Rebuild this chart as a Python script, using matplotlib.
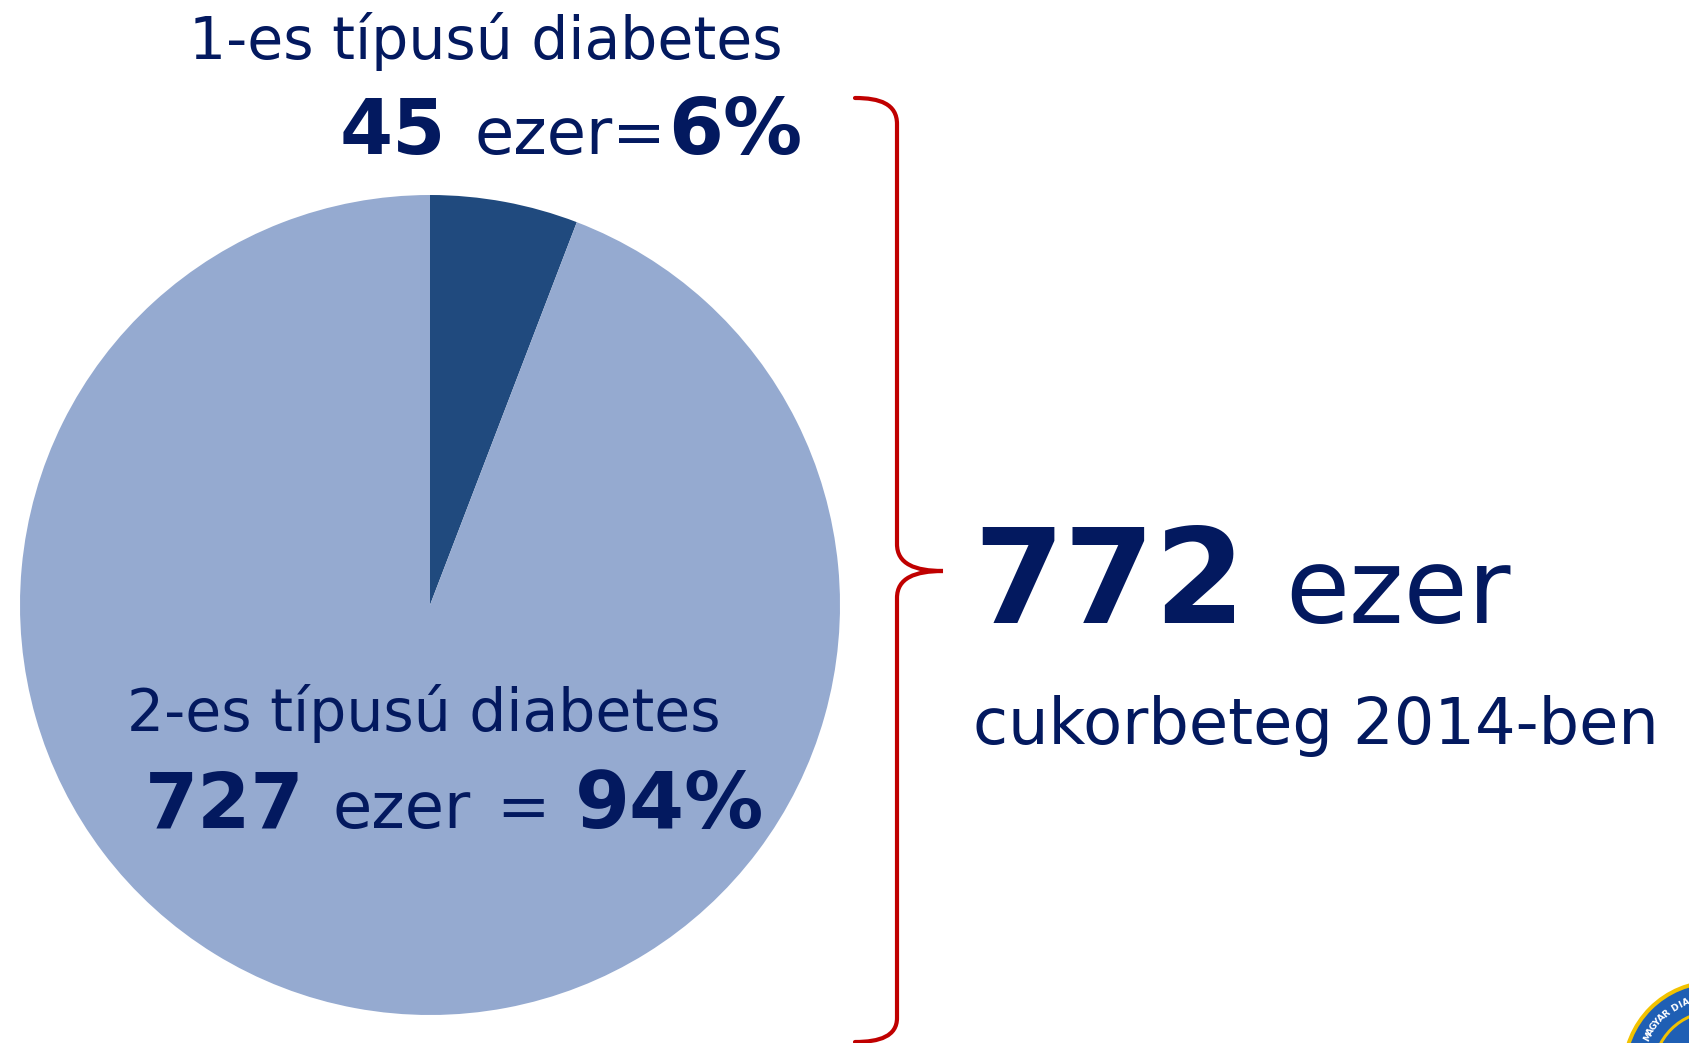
import matplotlib
matplotlib.use("Agg")
import matplotlib.pyplot as plt
from matplotlib.path import Path
from matplotlib.patches import PathPatch, Circle
import numpy as np

# data
types = ["1-es típusú diabetes", "2-es típusú diabetes"]
counts = [45, 727]          # ezer fő
shares = [6, 94]            # %
total = 772
year = 2014

NAVY = "#03195f"
SLICE_COLORS = ["#204a7e", "#95aad0"]
BRACE = "#c00000"

W, H = 1690, 1043
fig = plt.figure(figsize=(W / 100, H / 100), dpi=100)
ax = fig.add_axes([0, 0, 1, 1])

# pie: first slice starts at 12 o'clock and runs clockwise (y axis is flipped)
ax.pie(counts, colors=SLICE_COLORS, center=(430, 605), radius=410,
       startangle=-90, counterclock=True, wedgeprops=dict(linewidth=0))
ax.set_xlim(0, W)
ax.set_ylim(H, 0)
ax.set_aspect("auto")
ax.axis("off")

renderer = fig.canvas.get_renderer()


def draw_runs(x, y, runs):
    """Draw text pieces one after the other on a common baseline."""
    cur = x
    for s, weight, size, gap in runs:
        cur += gap
        t = ax.text(cur, y, s, fontsize=size, fontweight=weight, color=NAVY,
                    va="baseline", ha="left", family="DejaVu Sans")
        cur += t.get_window_extent(renderer=renderer).width
    return cur


# type 1 label
ax.text(189, 59, types[0], fontsize=42, color=NAVY, va="baseline", ha="left")
draw_runs(340, 154, [
    (str(counts[0]), "bold", 55, 0),
    ("ezer=", "normal", 46, 28),
    (f"{shares[0]}%", "bold", 57, 2),
])

# type 2 label
ax.text(127, 731, types[1], fontsize=42, color=NAVY, va="baseline", ha="left")
draw_runs(145, 828, [
    (str(counts[1]), "bold", 55, 0),
    ("ezer", "normal", 46, 28),
    ("=", "normal", 46, 25),
    (f"{shares[1]}%", "bold", 57, 26),
])

# total
draw_runs(973, 623, [
    (str(total), "bold", 94, 0),
    ("ezer", "normal", 75, 40),
])
ax.text(973, 744, f"cukorbeteg {year}-ben", fontsize=46, color=NAVY,
        va="baseline", ha="left")

# curly brace
verts = [
    (855, 98), (880, 98), (897, 104), (897, 124),
    (897, 544),
    (897, 564), (915, 571), (943, 571),
    (915, 571), (897, 578), (897, 598),
    (897, 1018),
    (897, 1036), (880, 1042), (855, 1042),
]
codes = [Path.MOVETO, Path.CURVE4, Path.CURVE4, Path.CURVE4,
         Path.LINETO,
         Path.CURVE4, Path.CURVE4, Path.CURVE4,
         Path.CURVE4, Path.CURVE4, Path.CURVE4,
         Path.LINETO,
         Path.CURVE4, Path.CURVE4, Path.CURVE4]
ax.add_patch(PathPatch(Path(verts, codes), facecolor="none",
                       edgecolor=BRACE, linewidth=3.0, capstyle="round"))

# logo in the corner (partly cut off)
lc = (1714, 1072)
ax.add_patch(Circle(lc, 92, facecolor="#f2c200", edgecolor="none"))
ax.add_patch(Circle(lc, 88, facecolor="#1f5fb4", edgecolor="none"))
ax.add_patch(Circle(lc, 62, facecolor="#f2c200", edgecolor="none"))
ax.add_patch(Circle(lc, 59, facecolor="#1f5fb4", edgecolor="none"))
logo_text = "MAGYAR DIA"
angs = np.linspace(152, 112, len(logo_text))
for ch, a in zip(logo_text, angs):
    r = np.deg2rad(a)
    ax.text(lc[0] + 75 * np.cos(r), lc[1] - 75 * np.sin(r), ch,
            fontsize=6.5, fontweight="bold", color="white",
            rotation=a - 90, ha="center", va="center")

fig.savefig("out.png", dpi=100)
